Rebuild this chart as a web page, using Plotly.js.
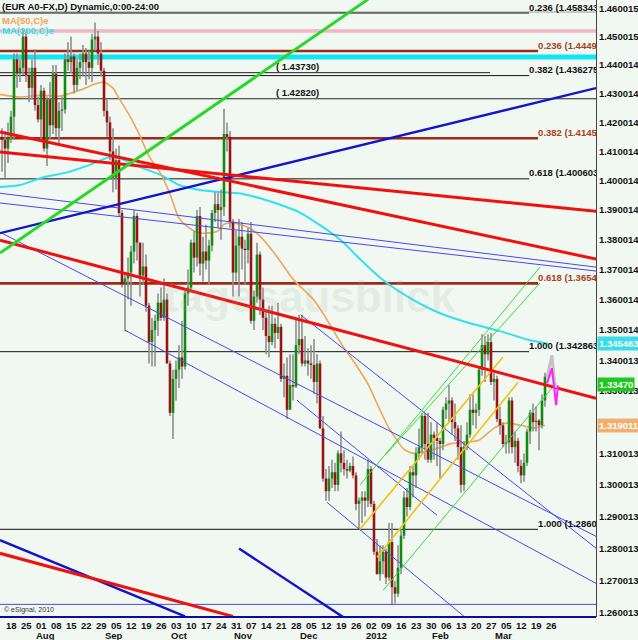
<!DOCTYPE html>
<html><head><meta charset="utf-8">
<script src="https://cdn.plot.ly/plotly-3.0.1.min.js"></script>
<style>html,body{margin:0;padding:0;background:#f1f8f1;}#chart{width:638px;height:640px;}</style>
</head><body><div id="chart"></div>
<script>
// ---------- DATA ----------
// bar index 0 = Mon 18 Jul 2011 (weekdays only); first candle = Thu 14 Jul 2011
const firstBar = -2;
const open = [
1.4140,1.4150,1.4140,1.4110,1.4150,1.4220,1.4420,1.4370,
1.4390,1.4500,1.4365,1.4320,1.4390, 1.4260,1.4210,1.4310,1.4110,1.4280,
1.4190,1.4370,1.4180,1.4240,1.4245, 1.4420,1.4410,1.4430,1.4330,1.4390,
1.4410,1.4440,1.4410,1.4390,1.4490, 1.4500,1.4440,1.4380,1.4240,1.4200,
1.4100,1.4010,1.4070,1.3890,1.3650, 1.3670,1.3690,1.3760,1.3880,1.3790,
1.3680,1.3710,1.3580,1.3460,1.3500, 1.3530,1.3590,1.3540,1.3600,1.3390,
1.3230,1.3340,1.3370,1.3410,1.3380, 1.3620,1.3640,1.3790,1.3740,1.3880,
1.3720,1.3760,1.3730,1.3780,1.3890, 1.3920,1.3900,1.3910,1.4160,1.4150,
1.3860,1.3690,1.3780,1.3810,1.3770, 1.3765,1.3820,1.3530,1.3610,1.3750,
1.3600,1.3540,1.3480,1.3460,1.3520, 1.3490,1.3510,1.3340,1.3350,1.3240,
1.3320,1.3315,1.3450,1.3470,1.3390, 1.3400,1.3390,1.3385,1.3330,1.3390,
1.3180,1.3020,1.2980,1.3020,1.3040, 1.3000,1.3100,1.3070,1.3050,1.3045,
1.3060,1.3030,1.2940,1.2950,1.2960, 1.2950,1.3050,1.2940,1.2790,1.2720,
1.2760,1.2790,1.2710,1.2820,1.2680, 1.2660,1.2740,1.2840,1.2960,1.2930,
1.3040,1.3030,1.3100,1.3120,1.3220, 1.3130,1.3080,1.3160,1.3150,1.3140,
1.3130,1.3240,1.3260,1.3270,1.3200, 1.3180,1.3120,1.3000,1.3120,1.3160,
1.3240,1.3230,1.3240,1.3370,1.3450, 1.3420,1.3460,1.3330,1.3340,1.3210,
1.3190,1.3130,1.3135,1.3270,1.3120, 1.3140,1.3060,1.3030,1.3070,1.3170,
1.3230,1.3200,1.3205,1.3190,1.3270];
const high = [
1.4280,1.4180,1.4170,1.4200,1.4240,1.4440,1.4440,1.4420,
1.4530,1.4520,1.4390,1.4420,1.4450, 1.4290,1.4330,1.4320,1.4290,1.4340,
1.4400,1.4400,1.4270,1.4290,1.4440, 1.4480,1.4500,1.4440,1.4420,1.4440,
1.4470,1.4460,1.4450,1.4510,1.4550, 1.4520,1.4480,1.4390,1.4280,1.4220,
1.4180,1.4110,1.4120,1.3900,1.3690, 1.3740,1.3780,1.3900,1.3890,1.3790,
1.3790,1.3750,1.3590,1.3540,1.3550, 1.3620,1.3640,1.3670,1.3620,1.3400,
1.3370,1.3400,1.3450,1.3530,1.3630, 1.3700,1.3800,1.3830,1.3900,1.3910,
1.3810,1.3850,1.3800,1.3900,1.3960, 1.3960,1.3970,1.4247,1.4200,1.4170,
1.3870,1.3830,1.3870,1.3860,1.3800, 1.3840,1.3860,1.3630,1.3790,1.3760,
1.3640,1.3560,1.3580,1.3580,1.3540, 1.3590,1.3520,1.3390,1.3410,1.3420,
1.3420,1.3540,1.3550,1.3550,1.3480, 1.3440,1.3450,1.3470,1.3420,1.3400,
1.3220,1.3050,1.3060,1.3080,1.3070, 1.3110,1.3170,1.3110,1.3080,1.3070,
1.3090,1.3040,1.2960,1.2980,1.2980, 1.3080,1.3060,1.2950,1.2830,1.2810,
1.2810,1.2800,1.2880,1.2880,1.2700, 1.2810,1.2860,1.2980,1.2990,1.3060,
1.3060,1.3120,1.3180,1.3230,1.3230, 1.3230,1.3200,1.3170,1.3200,1.3150,
1.3250,1.3280,1.3320,1.3280,1.3260, 1.3190,1.3190,1.3140,1.3200,1.3290,
1.3290,1.3260,1.3380,1.3486,1.3480, 1.3486,1.3490,1.3360,1.3350,1.3250,
1.3200,1.3160,1.3280,1.3280,1.3170, 1.3150,1.3080,1.3100,1.3180,1.3240,
1.3260,1.3250,1.3210,1.3290,1.3360];
const low = [
1.4110,1.4030,1.4010,1.4060,1.4130,1.4140,1.4320,1.4340,
1.4365,1.4340,1.4270,1.4280,1.4240, 1.4200,1.4140,1.4100,1.4050,1.4140,
1.4160,1.4150,1.4120,1.4170,1.4230, 1.4380,1.4370,1.4300,1.4310,1.4350,
1.4360,1.4330,1.4350,1.4340,1.4450, 1.4400,1.4360,1.4220,1.4150,1.4070,
1.3960,1.3970,1.3880,1.3640,1.3495, 1.3600,1.3580,1.3720,1.3730,1.3610,
1.3650,1.3560,1.3390,1.3380,1.3380, 1.3480,1.3530,1.3530,1.3390,1.3220,
1.3146,1.3270,1.3310,1.3340,1.3370, 1.3580,1.3630,1.3690,1.3710,1.3680,
1.3660,1.3700,1.3650,1.3760,1.3860, 1.3840,1.3800,1.3880,1.4100,1.3840,
1.3610,1.3660,1.3610,1.3700,1.3650, 1.3720,1.3520,1.3500,1.3590,1.3550,
1.3500,1.3420,1.3410,1.3450,1.3440, 1.3470,1.3330,1.3280,1.3210,1.3240,
1.3270,1.3310,1.3420,1.3380,1.3380, 1.3350,1.3340,1.3290,1.3260,1.3180,
1.3010,1.2950,1.2950,1.2990,1.2980, 1.2980,1.3040,1.3030,1.3020,1.3040,
1.3020,1.2920,1.2860,1.2880,1.2900, 1.2930,1.2930,1.2780,1.2720,1.2700,
1.2720,1.2690,1.2700,1.2624,1.2630, 1.2650,1.2720,1.2830,1.2900,1.2920,
1.2960,1.2990,1.3080,1.3100,1.3080, 1.3070,1.3070,1.3080,1.3060,1.3020,
1.3110,1.3210,1.3200,1.3160,1.3140, 1.3080,1.2975,1.2980,1.3110,1.3150,
1.3190,1.3180,1.3220,1.3350,1.3330, 1.3400,1.3320,1.3270,1.3200,1.3160,
1.3120,1.3100,1.3100,1.3100,1.3070, 1.3040,1.3005,1.3010,1.3060,1.3130,
1.3170,1.3170,1.3110,1.3180,1.3250];
const close = [
1.4150,1.4140,1.4110,1.4150,1.4220,1.4420,1.4370,1.4390,
1.4500,1.4365,1.4320,1.4390,1.4260, 1.4210,1.4310,1.4110,1.4280,1.4190,
1.4370,1.4180,1.4240,1.4245,1.4420, 1.4410,1.4430,1.4330,1.4390,1.4410,
1.4440,1.4410,1.4390,1.4490,1.4500, 1.4440,1.4380,1.4240,1.4200,1.4100,
1.4010,1.4070,1.3890,1.3650,1.3670, 1.3690,1.3760,1.3880,1.3790,1.3680,
1.3710,1.3580,1.3460,1.3500,1.3530, 1.3590,1.3540,1.3600,1.3390,1.3230,
1.3340,1.3370,1.3410,1.3380,1.3620, 1.3640,1.3790,1.3740,1.3880,1.3720,
1.3760,1.3730,1.3780,1.3890,1.3920, 1.3900,1.3910,1.4160,1.4150,1.3860,
1.3690,1.3780,1.3810,1.3770,1.3765, 1.3820,1.3530,1.3610,1.3750,1.3600,
1.3540,1.3480,1.3460,1.3520,1.3490, 1.3510,1.3340,1.3350,1.3240,1.3320,
1.3315,1.3450,1.3470,1.3390,1.3400, 1.3390,1.3385,1.3330,1.3390,1.3180,
1.3020,1.2980,1.3020,1.3040,1.3000, 1.3100,1.3070,1.3050,1.3045,1.3060,
1.3030,1.2940,1.2950,1.2960,1.2950, 1.3050,1.2940,1.2790,1.2720,1.2760,
1.2790,1.2710,1.2820,1.2680,1.2660, 1.2740,1.2840,1.2960,1.2930,1.3040,
1.3030,1.3100,1.3120,1.3220,1.3130, 1.3080,1.3160,1.3150,1.3140,1.3130,
1.3240,1.3260,1.3270,1.3200,1.3180, 1.3120,1.3000,1.3120,1.3160,1.3240,
1.3230,1.3240,1.3370,1.3450,1.3420, 1.3460,1.3330,1.3340,1.3210,1.3190,
1.3130,1.3135,1.3270,1.3120,1.3140, 1.3060,1.3030,1.3070,1.3170,1.3230,
1.3200,1.3205,1.3190,1.3270,1.3347];

// moving averages (bar index, value)
const ma50Idx = [-2,5,12,18,25,30,33,36,38,42,45,48,52,55,58,61,64,67,71,73,76,81,85,90,96,103,107,112,117,121,125,128,133,136,139,144,149,154,158,163,167,172,176,180];
const ma50Val = [1.4298,1.4288,1.4295,1.4291,1.4312,1.4333,1.4340,1.4319,1.4284,1.4215,1.4153,1.4084,1.4022,1.3954,1.3873,1.3842,1.3825,1.3822,1.3829,1.3852,1.3856,1.3842,1.3812,1.3752,1.3668,1.3598,1.3539,1.3456,1.3385,1.3323,1.3239,1.3181,1.3113,1.3100,1.3104,1.3116,1.3132,1.3136,1.3142,1.3181,1.3197,1.3190,1.3181,1.3190];
const ma200Idx = [-2,5,12,21,28,35,38,45,52,58,65,72,78,85,92,98,105,112,118,126,135,145,155,165,175,181];
const ma200Val = [1.3978,1.3985,1.4009,1.4029,1.4053,1.4081,1.4077,1.4046,1.4019,1.3985,1.3968,1.3961,1.3957,1.3940,1.3917,1.3893,1.3849,1.3798,1.3738,1.3665,1.3605,1.3555,1.3522,1.3496,1.3466,1.3455];

// trend lines: [startBar, startPrice, endBar, endPrice]
const trendRed = [[-1.67,1.4167,197,1.3735],[-1.67,1.4098,197,1.3896],[-1.67,1.3798,197,1.3277],[-1.67,1.2785,76,1.2590]];
const trendGreenThick = [[-1.67,1.3755,121,1.4632]];
const trendBlueThick = [[-1.67,1.3822,197,1.4319],[-1.67,1.2826,60,1.2590],[78,1.2800,112.7,1.2588]];
const trendBlueThin = [[-1.67,1.3957,197,1.3708],[-1.67,1.3924,197,1.3695],[-1.67,1.3825,197,1.2838],[98.5,1.3550,197,1.2801],[40,1.3499,197,1.2692],[97.3,1.3271,144,1.2904],[107.3,1.2945,153.3,1.2588],[-1.67,1.2627,197,1.2627]];
const trendGreenThin = [[118.3,1.2999,178.3,1.3708],[126.7,1.3094,178.3,1.3655],[126,1.2670,183.7,1.3326]];
const trendGold = [[118.3,1.2860,166,1.3411],[124,1.2773,171,1.3329]];
const projGrayIdx = [180.7,182.3,183.3,184.3];
const projGrayVal = [1.3345,1.3417,1.3319,1.3313];
const projPinkIdx = [180.7,182.3,183.7,184.3];
const projPinkVal = [1.3326,1.3375,1.3255,1.3319];

// Fibonacci / price levels
const fibLevels = [1.458343,1.444900,1.436275,1.414500,1.400603,1.365400,1.342863,1.286000];
const fibRatios = ['0.236','0.236','0.382','0.382','0.618','0.618','1.000','1.000'];
const fibKind   = ['k','r','k','r','k','r','k','k2'];
const markLevels = [1.43730,1.42820];
const markEnd = [161.7,197];
const pinkLevel = 1.4520, cyanLevel = 1.4428, titleLine = 1.4587, bandLow = 1.4449;

// axis labels
const yTicks = [1.460015,1.450015,1.440014,1.430014,1.420014,1.410014,1.400014,1.390014,1.380014,1.370014,1.360014,1.350014,1.340013,1.330013,1.310013,1.300013,1.290013,1.280013,1.270013,1.260013];
const weekLabels = ['18','25','01','08','15','22','29','05','12','19','26','03','10','17','24','31','07','14','21','28','05','12','19','26','02','09','16','23','30','06','13','20','27','05','12','19','26'];
const monthLabels = ['Aug','Sep','Oct','Nov','Dec','2012','Feb','Mar'];
const monthStart = [10,33,55,76,98,120,142,163];
const lastMA200 = 1.345463, lastPrice = 1.33470, lastMA50 = 1.319011;

// ---------- BUILD ----------
const FONT = 'Liberation Sans, Arial, sans-serif';
const L = Math.log10;
function segs(list){const x=[],y=[];list.forEach(s=>{x.push(s[0],s[2],null);y.push(s[1],s[3],null);});return {x,y};}
function lineTrace(list,color,width){const s=segs(list);return {type:'scatter',mode:'lines',x:s.x,y:s.y,line:{color:color,width:width},hoverinfo:'skip'};}

const traces = [];
traces.push(lineTrace([[-1.67,pinkLevel,197,pinkLevel]],'#f2b6c6',3.5));
traces.push(lineTrace([[-1.67,cyanLevel,197,cyanLevel]],'#10e6f4',5));
traces.push(lineTrace([[-1.67,titleLine,197,titleLine]],'#9a9a9a',1));

const fibBlack=[],fibBrown=[];
const fibTxt={k:{x:[],y:[],t:[]},r:{x:[],y:[],t:[]}};
fibLevels.forEach((v,j)=>{
  const k=fibKind[j]; const end=(k==='k')?174.7:177.7;
  (k==='r'?fibBrown:fibBlack).push([-1.67,v,end,v]);
  const g=(k==='r')?fibTxt.r:fibTxt.k;
  g.x.push(end); g.y.push(v); g.t.push(fibRatios[j]+' ('+v.toFixed(k==='k'?6:4));
});
traces.push(lineTrace(fibBlack,'#111111',1));
traces.push(lineTrace(fibBrown,'#9c2a18',2.6));
traces.push(lineTrace(markLevels.map((v,j)=>[-1.67,v,markEnd[j],v]),'#222222',1));

traces.push({type:'scatter',mode:'lines',x:ma200Idx,y:ma200Val,line:{color:'#2ee2f0',width:2,shape:'spline',smoothing:0.6},hoverinfo:'skip'});
traces.push({type:'scatter',mode:'lines',x:ma50Idx,y:ma50Val,line:{color:'#f2a457',width:1.6,shape:'spline',smoothing:0.6},hoverinfo:'skip'});

// candles
const wx=[],wy=[],ux=[],uy=[],dx=[],dy=[];
for(let k=0;k<open.length;k++){
  const x=firstBar+k;
  wx.push(x,x,null); wy.push(low[k],high[k],null);
  let o=open[k],c=close[k];
  if(Math.abs(c-o)<0.0004){const m=(o+c)/2;o=m-0.0002;c=m+0.0002;}
  if(close[k]>=open[k]){ux.push(x,x,null);uy.push(o,c,null);}else{dx.push(x,x,null);dy.push(o,c,null);}
}
traces.push({type:'scatter',mode:'lines',x:wx,y:wy,line:{color:'#8e8e8e',width:1.6},hoverinfo:'skip'});
traces.push({type:'scatter',mode:'lines',x:ux,y:uy,line:{color:'#138a13',width:2.6},hoverinfo:'skip'});
traces.push({type:'scatter',mode:'lines',x:dx,y:dy,line:{color:'#961414',width:2.6},hoverinfo:'skip'});

traces.push(lineTrace(trendBlueThin,'#4848ee',1));
traces.push(lineTrace(trendGreenThin,'#3ad83a',1));
traces.push(lineTrace(trendGold,'#f4c010',1.6));
traces.push(lineTrace(trendBlueThick,'#1414c8',2.4));
traces.push(lineTrace(trendRed,'#f01010',3));
traces.push(lineTrace(trendGreenThick,'#28d828',3));
traces.push({type:'scatter',mode:'lines',x:projGrayIdx,y:projGrayVal,line:{color:'#c4c4c4',width:3},hoverinfo:'skip'});
traces.push({type:'scatter',mode:'lines',x:projPinkIdx,y:projPinkVal,line:{color:'#ff22ff',width:2},hoverinfo:'skip'});

const tf={family:FONT,size:9.5,weight:'bold'};
traces.push({type:'scatter',mode:'text',x:fibTxt.k.x,y:fibTxt.k.y,text:fibTxt.k.t,textposition:'top right',cliponaxis:true,textfont:Object.assign({},tf,{color:'#111'}),hoverinfo:'skip'});
traces.push({type:'scatter',mode:'text',x:fibTxt.r.x,y:fibTxt.r.y,text:fibTxt.r.t,textposition:'top right',cliponaxis:true,textfont:Object.assign({},tf,{color:'#a8401e'}),hoverinfo:'skip'});
traces.push({type:'scatter',mode:'text',x:markLevels.map(()=>90.3),y:markLevels,text:markLevels.map(v=>'( '+v.toFixed(5)+')'),textposition:'top right',cliponaxis:true,textfont:Object.assign({},tf,{color:'#111'}),hoverinfo:'skip'});

const ann=[];
ann.push({xref:'paper',yref:'paper',x:0,y:1,xanchor:'left',yanchor:'top',xshift:0,yshift:1,text:'(EUR A0-FX,D) Dynamic,0:00-24:00',showarrow:false,font:Object.assign({},tf,{color:'#111'})});
ann.push({xref:'paper',yref:'paper',x:0,y:1,xanchor:'left',yanchor:'top',yshift:-13,text:'MA(50,C)e',showarrow:false,font:Object.assign({},tf,{color:'#f2a457'})});
ann.push({xref:'paper',yref:'paper',x:0,y:1,xanchor:'left',yanchor:'top',yshift:-23,text:'MA(200,C)e',showarrow:false,font:Object.assign({},tf,{color:'#2ee2f0'})});
ann.push({xref:'paper',yref:'paper',x:0.52,y:0.52,xanchor:'center',yanchor:'middle',text:'tagesausblick',showarrow:false,font:{family:FONT,size:44,weight:'bold',color:'rgba(150,175,150,0.16)'}});
ann.push({xref:'paper',yref:'paper',x:0,y:0,xanchor:'left',yanchor:'bottom',xshift:2,yshift:1,text:'© eSignal, 2010',showarrow:false,font:{family:FONT,size:7,color:'#333'}});
weekLabels.forEach((t,j)=>ann.push({xref:'x',yref:'paper',x:j*5,y:0,xanchor:'left',yanchor:'top',xshift:-1.5,yshift:-1,text:t,showarrow:false,font:Object.assign({},tf,{color:'#111'})}));
monthLabels.forEach((t,j)=>ann.push({xref:'x',yref:'paper',x:monthStart[j],y:0,xanchor:'left',yanchor:'top',xshift:-1.5,yshift:-11,text:t,showarrow:false,font:Object.assign({},tf,{color:'#111'})}));
function box(v,bg,shift){return {xref:'paper',yref:'y',x:1,y:L(v),xanchor:'left',yanchor:'middle',xshift:1,yshift:shift,text:v.toFixed(v===lastPrice?5:6),showarrow:false,bgcolor:bg,borderpad:1,font:Object.assign({},tf,{color:'#ffffff'})};}
ann.push(box(lastMA200,'#3adcea',0));
ann.push(box(lastPrice,'#1ec81e',-8));
ann.push(box(lastMA50,'#f2b070',0));

const layout={
  width:638,height:640,margin:{l:0,r:42,t:0,b:23,pad:0},
  paper_bgcolor:'#f1f8f1',plot_bgcolor:'#f1f8f1',showlegend:false,hovermode:false,
  xaxis:{range:[-5/3,197],showgrid:false,zeroline:false,showticklabels:false,showline:false,ticks:'',fixedrange:true},
  yaxis:{type:'log',range:[L(1.25882),L(1.46297)],side:'right',tickvals:yTicks,ticktext:yTicks.map(v=>v.toFixed(6)),
         showgrid:false,zeroline:false,showline:true,linecolor:'#444',linewidth:1,ticks:'',
         tickfont:{family:FONT,size:9.5,color:'#111',weight:'bold'},fixedrange:true},
  shapes:[
    {type:'rect',xref:'paper',yref:'y',x0:0,x1:1,y0:L(bandLow),y1:L(titleLine),fillcolor:'#f6f2a6',line:{width:0},layer:'below'},
    {type:'line',xref:'paper',yref:'paper',x0:0,x1:1,y0:0,y1:0,line:{color:'#0a0aa8',width:2},layer:'above'}
  ],
  annotations:ann
};
Plotly.newPlot('chart',traces,layout,{staticPlot:true,displayModeBar:false});
</script></body></html>
